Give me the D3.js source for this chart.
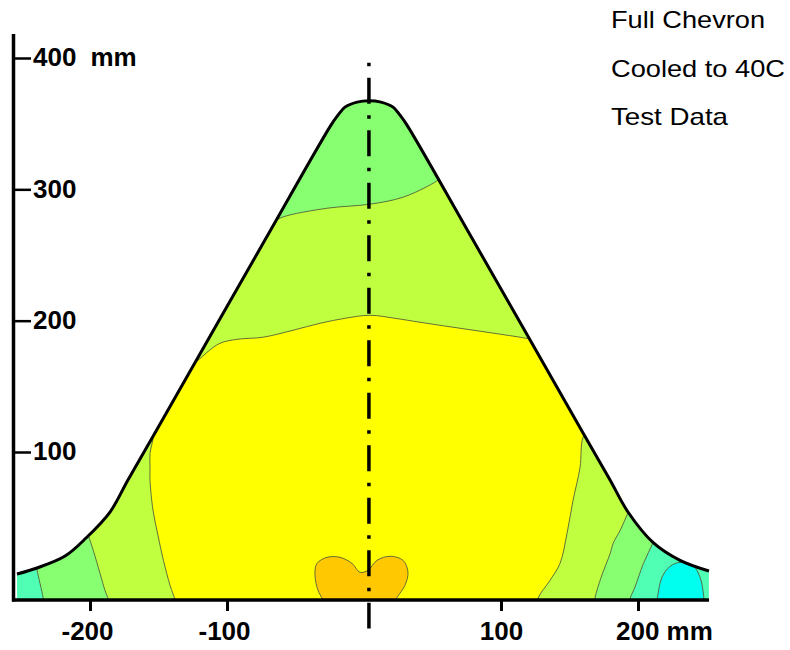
<!DOCTYPE html>
<html>
<head>
<meta charset="utf-8">
<script src="https://cdn.jsdelivr.net/npm/d3@7"></script>
<style>
  html, body { margin: 0; padding: 0; background: #ffffff; }
  svg { display: block; }
  text { font-family: "Liberation Sans", Arial, Helvetica, sans-serif; }
</style>
</head>
<body>
<svg id="chart" width="790" height="650"></svg>
<script>
// ---------- data (mm) ----------
const xTickValues = [-200, -100, 100, 200];
const yTickValues = [100, 200, 300, 400];
const unitLabel = "mm";
const titleLines = ["Full Chevron", "Cooled to 40C", "Test Data"];
const titleWidths = [154, 174, 117];

const centerLineX = 3.6;
const centerLineY = [404.4, -34.3];
const plotBottom = -13;

// chevron outline (top edge, left to right)
const outlineTop = [
  [-253.3, 7.1], [-238.7, 11.7], [-218.2, 20.8], [-202.9, 34.5], [-185.4, 54.3],
  [-172.3, 78.7], [-152.6, 114.5], [-72.3, 261.4], [-24.1, 348.9], [-19.0, 356.5],
  [-13.9, 362.6], [-5.1, 366.4], [3.6, 367.5], [12.4, 366.4], [21.2, 362.6],
  [26.3, 356.5], [31.4, 348.9], [79.6, 261.4], [159.9, 114.5], [179.6, 78.7],
  [192.7, 54.3], [210.9, 31.2], [230.7, 17.5], [251.8, 9.4]
];

// contour boundaries
const cyanBlob = [
  [213, -20], [213.9, -12.9], [217.5, 4.6], [223.4, 12.9], [230.7, 16.0],
  [240.1, 13.7], [245.3, 4.6], [247.4, -5.3], [248.2, -12.9], [248.5, -20]
];
const lightGreenLeft = [[-234, -20], [-234.1, -12.2], [-236.5, 0], [-238.9, 11.2], [-242, 28]];
const lightGreenRight = [[216, 45], [211.2, 31.5], [203.9, 15.0], [197.8, -2.8], [194.2, -11.7], [193, -20]];

const yellowGreenLeft = [[-186.5, -20], [-186.7, -12.4], [-189.1, -5.3], [-192.7, 7.6], [-197.6, 25.1], [-201.2, 36.6], [-205, 50]];
const yellowGreenTop = [[-68, 274], [-59.9, 278.7], [-27.0, 285.6], [4.4, 288.7], [28.5, 294.0], [50.4, 304.6], [58, 310]];
const yellowGreenRight = [[200, 70], [192.9, 54.1], [187.0, 40.4], [181.9, 30.5], [179.7, 22.8], [173.1, 4.6], [168.6, -11.4], [168, -20]];

const yellowLeft = [[-138, -20], [-138, -12.9], [-141.6, -1.5], [-146.4, 17.5], [-150.4, 36.6], [-154, 55.6], [-156.2, 78.4], [-156.2, 88.3], [-156.2, 99.0], [-154, 112.7], [-158, 124]];
const yellowTop = [[-128, 166], [-121.2, 169.8], [-114.6, 175.9], [-105.1, 182.8], [-92.7, 185.8], [-73.7, 187.4], [-51.8, 192.7], [-32.1, 198.0], [-13.9, 201.8], [4.4, 204.1], [22.6, 201.8], [40.9, 198.8], [65.0, 195.0], [89.8, 191.2], [113.9, 187.4], [118.2, 186.6], [126, 186]];
const yellowRight = [[166, 120], [159.9, 111.2], [157.7, 88.3], [152.6, 63.2], [148.2, 38.1], [143.1, 15.2], [135.8, 2.3], [127.0, -11.4], [126, -20]];

const orangeBlob = [
  [-31, -10.7], [-34.3, -3.0], [-35.8, 8.4], [-34.3, 15.2], [-27.0, 19.8], [-17.5, 19.8],
  [-8.8, 15.2], [-2.9, 8.4], [2.9, 9.9], [9.5, 17.5], [19.0, 20.6], [28.5, 17.5],
  [32.1, 8.4], [29.9, -1.5], [24.1, -10.7], [21, -16], [-27, -16]
];

// ---------- drawing ----------
const svg = d3.select("#chart");
const x = d3.scaleLinear().domain([-200, 200]).range([90, 638]);
const y = d3.scaleLinear().domain([100, 400]).range([452, 58]);

const curve = d3.line().x(d => x(d[0])).y(d => y(d[1])).curve(d3.curveCatmullRom.alpha(0.5));
const closedCurve = d3.line().x(d => x(d[0])).y(d => y(d[1])).curve(d3.curveCatmullRomClosed.alpha(0.5));

function runsPath(runs) {
  let d = "";
  runs.forEach((r, i) => {
    let s = r.length > 1 ? curve(r) : `M${x(r[0][0])},${y(r[0][1])}`;
    if (i > 0) s = s.replace(/^M/, "L");
    d += s;
  });
  return d + "Z";
}

const first = outlineTop[0], last = outlineTop[outlineTop.length - 1];
const outlinePath = curve(outlineTop);
const fillPath = outlinePath +
  `L${x(last[0])},${y(plotBottom)}L${x(first[0])},${y(plotBottom)}Z`;

svg.append("defs").append("clipPath").attr("id", "shapeClip")
  .append("path").attr("d", fillPath);

const regions = [
  { color: "#00FFEE", d: runsPath([cyanBlob]) },
  { color: "#88FF70", d: runsPath([lightGreenLeft, [[-280, 420]], [[280, 420]], lightGreenRight]) },
  { color: "#C0FF40", d: runsPath([yellowGreenLeft, [[-200, 300]], yellowGreenTop, [[300, 300]], yellowGreenRight]) },
  { color: "#FFFF00", d: runsPath([yellowLeft, [[-200, 160]], yellowTop, [[300, 186]], yellowRight]) },
  { color: "#FFC800", d: closedCurve(orangeBlob) }
];

const g = svg.append("g").attr("clip-path", "url(#shapeClip)");
g.append("path").attr("d", fillPath).attr("fill", "#50FFB4");
g.selectAll("path.region").data(regions).join("path")
  .attr("class", "region")
  .attr("d", d => d.d)
  .attr("fill", d => d.color)
  .attr("stroke", "#55603a")
  .attr("stroke-width", 0.9)
  .attr("stroke-linejoin", "round");

// outline
svg.append("path").attr("d", outlinePath)
  .attr("fill", "none").attr("stroke", "#000").attr("stroke-width", 3);

// y axis
const yAxis = d3.axisRight(y).tickValues(yTickValues).tickSize(16).tickPadding(2)
  .tickFormat(d => String(d));
const gy = svg.append("g").attr("transform", "translate(15,0)").call(yAxis);
gy.select(".domain").remove();
gy.selectAll(".tick line").attr("stroke", "#000").attr("stroke-width", 2.5);
gy.selectAll(".tick text")
  .attr("fill", "#000").attr("font-size", 26).attr("font-weight", "bold")
  .attr("font-family", "Liberation Sans, Arial, sans-serif")
  .attr("dy", "0.30em");
gy.selectAll(".tick").filter(d => d === 400).select("text")
  .append("tspan").attr("dx", 14).text(unitLabel);

svg.append("line").attr("x1", 13.5).attr("x2", 13.5).attr("y1", 34).attr("y2", 601.5)
  .attr("stroke", "#000").attr("stroke-width", 3.5);

// x axis
const xAxis = d3.axisBottom(x).tickValues(xTickValues).tickSize(11).tickPadding(11)
  .tickFormat(d => String(d));
const gx = svg.append("g").attr("transform", "translate(0,600)").call(xAxis);
gx.select(".domain").remove();
gx.selectAll(".tick line").attr("stroke", "#000").attr("stroke-width", 3);
gx.selectAll(".tick text")
  .attr("fill", "#000").attr("font-size", 26).attr("font-weight", "bold")
  .attr("font-family", "Liberation Sans, Arial, sans-serif");
gx.selectAll(".tick").filter(d => d < 0).select("text").attr("dx", -3);
gx.selectAll(".tick").filter(d => d === 200).select("text")
  .attr("text-anchor", "start").attr("x", -22.5)
  .text(d => d + " " + unitLabel);

svg.append("line").attr("x1", 12).attr("x2", 709).attr("y1", 600).attr("y2", 600)
  .attr("stroke", "#000").attr("stroke-width", 3.5);

// centre line (dash-dot)
svg.append("line")
  .attr("x1", x(centerLineX)).attr("x2", x(centerLineX))
  .attr("y1", y(centerLineY[0])).attr("y2", y(centerLineY[1]))
  .attr("stroke", "#000").attr("stroke-width", 3.5)
  .attr("stroke-dasharray", "26,11.5,3.5,11.5").attr("stroke-dashoffset", 27);

// titles
svg.append("g").selectAll("text").data(titleLines).join("text")
  .attr("x", 611)
  .attr("y", (d, i) => [28, 77, 125][i])
  .attr("font-size", 24)
  .attr("fill", "#000")
  .attr("textLength", (d, i) => titleWidths[i])
  .attr("lengthAdjust", "spacingAndGlyphs")
  .text(d => d);
</script>
</body>
</html>
